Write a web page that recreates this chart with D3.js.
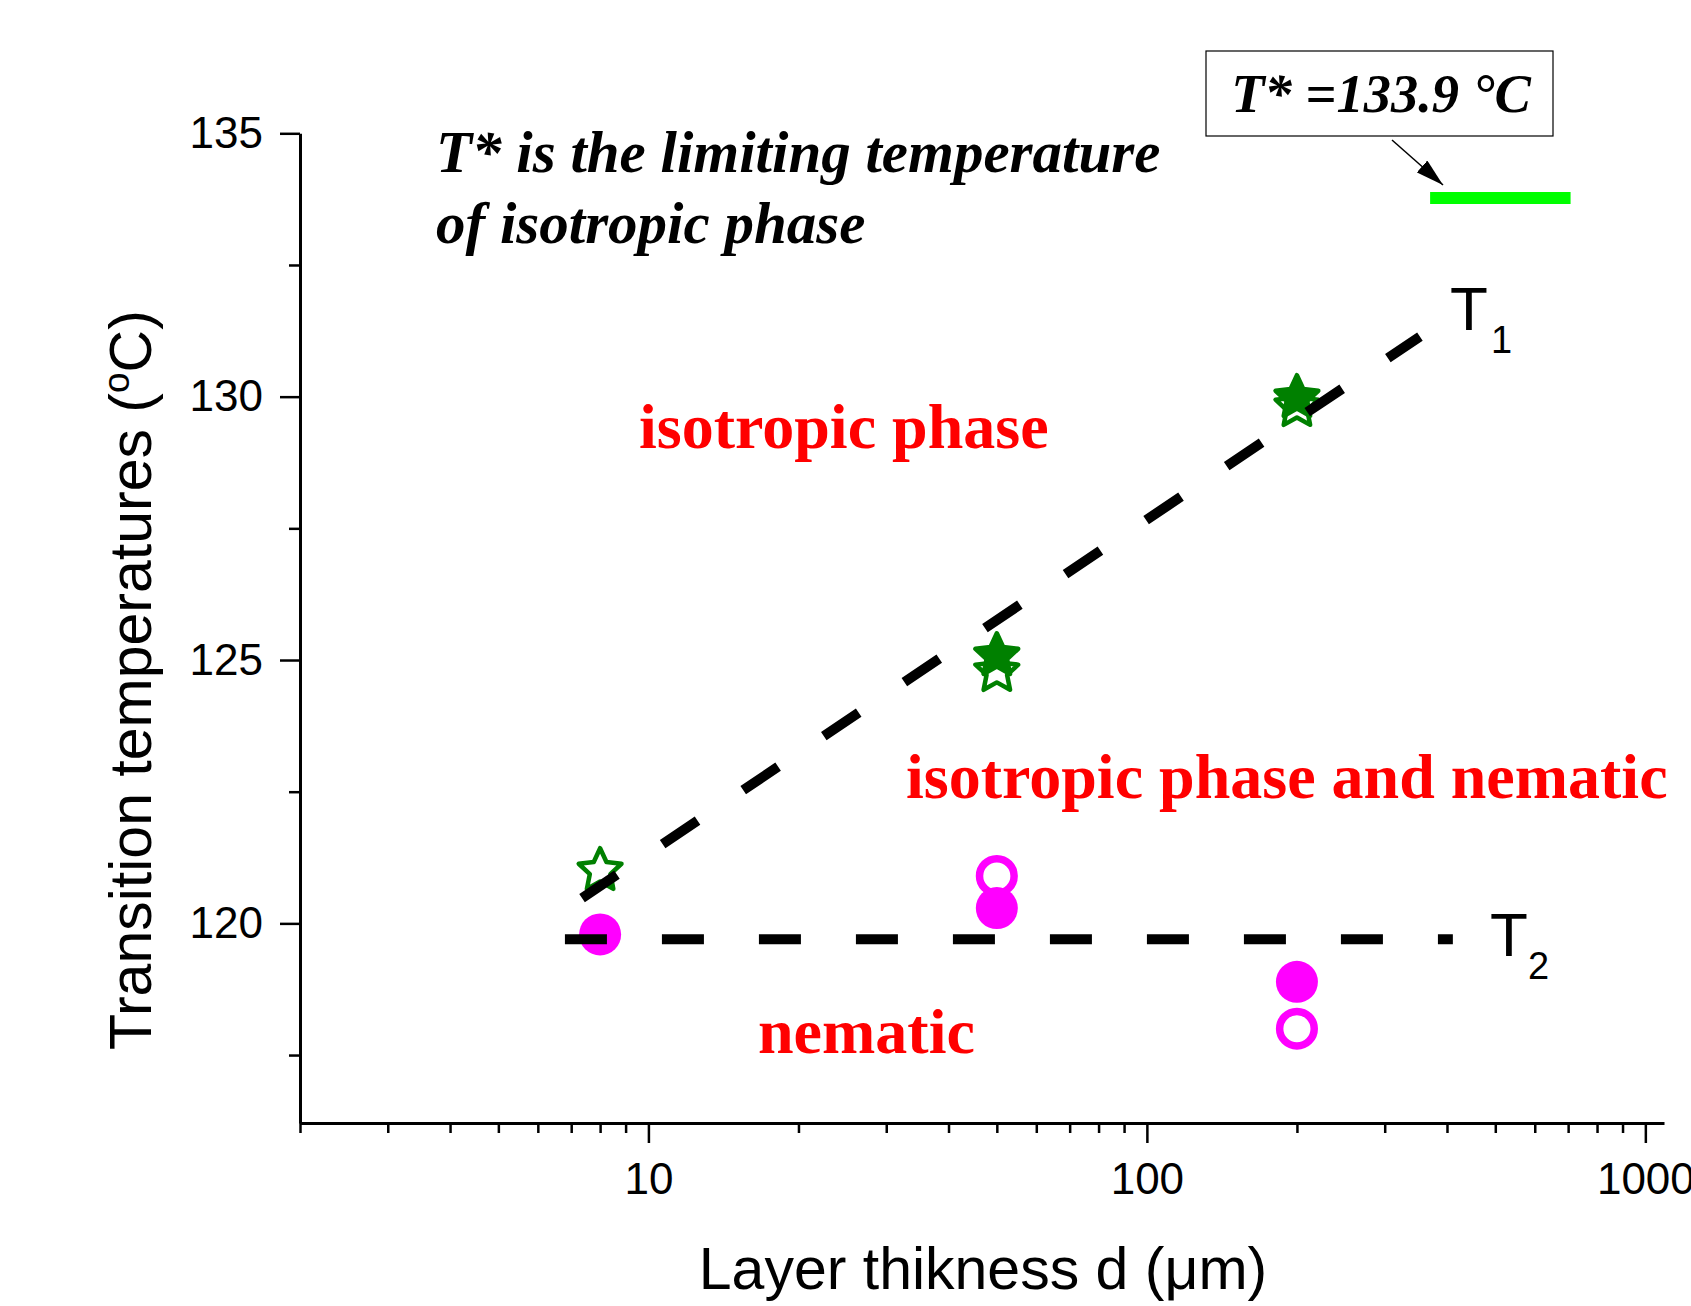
<!DOCTYPE html>
<html>
<head>
<meta charset="utf-8">
<script src="https://cdn.jsdelivr.net/npm/d3@7"></script>
<style>
  body { margin: 0; background: #fff; }
  .sans { font-family: "Liberation Sans", Arial, sans-serif; }
  .serif { font-family: "Liberation Serif", "Times New Roman", serif; font-weight: bold; }
</style>
</head>
<body>
<div id="chart"></div>
<script>
// values: layer thickness d (um) and temperatures (C)
const starOpenD = [8, 50, 200];
const starOpenT = [121.0, 124.78, 129.81];
const starFilledD = [50, 200];
const starFilledT = [125.08, 129.98];
const circleOpenD = [50, 200];
const circleOpenT = [120.9, 118.0];
const circleFilledD = [8, 50, 200];
const circleFilledT = [119.79, 120.29, 118.89];

// fitted lines T1, T2 and the limiting temperature T*
const t1LineD = [7.36, 353];
const t1LineT = [120.48, 131.14];
const t2LineD = [6.8, 411];
const t2LineT = [119.7, 119.7];
const tStarD = [370, 708];
const tStarT = [133.77, 133.77];

const yMajor = [120, 125, 130, 135];
const yMinor = [117.5, 122.5, 127.5, 132.5];
const xMajor = [10, 100, 1000];
const xMinor = [2, 3, 4, 5, 6, 7, 8, 9, 20, 30, 40, 50, 60, 70, 80, 90, 200, 300, 400, 500, 600, 700, 800, 900];

const W = 1691, H = 1306;
const svg = d3.select('#chart').append('svg')
  .attr('width', W).attr('height', H);

const x = d3.scaleLog().domain([2, 1090]).range([300, 1664]);
const y = d3.scaleLinear().domain([116.21, 135]).range([1123, 133.3]);

// axes
svg.append('g').attr('transform', 'translate(300,0)')
  .call(d3.axisLeft(y).tickValues(yMajor).tickSize(20).tickSizeOuter(0).tickPadding(17));
svg.append('g').attr('transform', 'translate(300,0)')
  .call(d3.axisLeft(y).tickValues(yMinor).tickSize(11).tickFormat(''))
  .select('.domain').remove();
svg.append('g').attr('transform', 'translate(0,1123)')
  .call(d3.axisBottom(x).tickValues(xMajor).tickSize(20).tickSizeOuter(0).tickPadding(20).tickFormat(d3.format('d')));
svg.append('g').attr('transform', 'translate(0,1123)')
  .call(d3.axisBottom(x).tickValues(xMinor).tickSize(10).tickFormat(''))
  .select('.domain').remove();

svg.selectAll('.domain').attr('stroke', '#000').attr('stroke-width', 3);
svg.selectAll('.tick line').attr('stroke', '#000').attr('stroke-width', 2.5);
svg.selectAll('.tick text').attr('class', 'sans').attr('font-size', 44).attr('fill', '#000');

// axis titles
svg.append('text').attr('class', 'sans')
  .attr('x', 983).attr('y', 1289).attr('text-anchor', 'middle')
  .attr('font-size', 59).text('Layer thikness d (\u03bcm)');

const yt = svg.append('text').attr('class', 'sans')
  .attr('transform', 'translate(151,680) rotate(-90)')
  .attr('text-anchor', 'middle').attr('font-size', 59);
yt.append('tspan').text('Transition temperatures (');
yt.append('tspan').attr('font-size', 37).attr('dy', -22).text('o');
yt.append('tspan').attr('dy', 22).text('C)');

// star marker
function starPath(R, r) {
  const pts = [];
  for (let i = 0; i < 10; i++) {
    const a = -Math.PI / 2 + i * Math.PI / 5;
    const rad = i % 2 === 0 ? R : r;
    pts.push([rad * Math.cos(a), rad * Math.sin(a)]);
  }
  return 'M' + pts.map(p => p.join(',')).join('L') + 'Z';
}
const star = starPath(22.5, 10.8);

const green = '#008000', magenta = '#ff00ff';

svg.selectAll('.star-open').data(starOpenD).enter().append('path')
  .attr('d', star)
  .attr('transform', (d, i) => `translate(${x(d)},${y(starOpenT[i])})`)
  .attr('fill', '#fff').attr('stroke', green).attr('stroke-width', 4.5)
  .attr('stroke-linejoin', 'round');
svg.selectAll('.star-filled').data(starFilledD).enter().append('path')
  .attr('d', star)
  .attr('transform', (d, i) => `translate(${x(d)},${y(starFilledT[i])})`)
  .attr('fill', green).attr('stroke', green).attr('stroke-width', 4.5)
  .attr('stroke-linejoin', 'round');

svg.selectAll('.circ-open').data(circleOpenD).enter().append('circle')
  .attr('cx', d => x(d)).attr('cy', (d, i) => y(circleOpenT[i]))
  .attr('r', 17.3).attr('fill', '#fff').attr('stroke', magenta).attr('stroke-width', 7.5);
svg.selectAll('.circ-filled').data(circleFilledD).enter().append('circle')
  .attr('cx', d => x(d)).attr('cy', (d, i) => y(circleFilledT[i]))
  .attr('r', 21).attr('fill', magenta);

// lines
const line = d3.line().x(p => x(p[0])).y(p => y(p[1]));
svg.append('path').datum(d3.zip(t1LineD, t1LineT)).attr('d', line)
  .attr('fill', 'none').attr('stroke', '#000').attr('stroke-width', 10)
  .attr('stroke-dasharray', '42,55');
svg.append('path').datum(d3.zip(t2LineD, t2LineT)).attr('d', line)
  .attr('fill', 'none').attr('stroke', '#000').attr('stroke-width', 10)
  .attr('stroke-dasharray', '42,55');
svg.append('path').datum(d3.zip(tStarD, tStarT)).attr('d', line)
  .attr('fill', 'none').attr('stroke', '#00ff00').attr('stroke-width', 12);

// line labels
function subLabel(tx, ty, sub, sx, sy) {
  const g = svg.append('g').attr('class', 'sans');
  g.append('text').attr('class', 'sans').attr('x', tx).attr('y', ty).attr('font-size', 62).text('T');
  g.append('text').attr('class', 'sans').attr('x', sx).attr('y', sy).attr('font-size', 38).text(sub);
}
subLabel(1450, 330, '1', 1491, 353);
subLabel(1490, 956, '2', 1528, 979);

// region labels
const red = '#ff0000';
svg.append('text').attr('class', 'serif').attr('fill', red).attr('font-size', 64)
  .attr('x', 639).attr('y', 448).text('isotropic phase');
svg.append('text').attr('class', 'serif').attr('fill', red).attr('font-size', 64)
  .attr('x', 906).attr('y', 798).text('isotropic phase and nematic');
svg.append('text').attr('class', 'serif').attr('fill', red).attr('font-size', 64)
  .attr('x', 758).attr('y', 1053).text('nematic');

// note
svg.append('text').attr('class', 'serif').attr('font-style', 'italic').attr('font-size', 59)
  .attr('x', 436).attr('y', 172).text('T* is the limiting temperature');
svg.append('text').attr('class', 'serif').attr('font-style', 'italic').attr('font-size', 59)
  .attr('x', 436).attr('y', 243).text('of isotropic phase');

// T* box and arrow
svg.append('rect').attr('x', 1206).attr('y', 51).attr('width', 347).attr('height', 85)
  .attr('fill', '#fff').attr('stroke', '#000').attr('stroke-width', 1.2);
svg.append('text').attr('class', 'serif').attr('font-style', 'italic').attr('font-size', 54.5)
  .attr('x', 1381).attr('y', 112).attr('text-anchor', 'middle').text('T* =133.9 \u00b0C');

svg.append('defs').append('marker').attr('id', 'arr')
  .attr('viewBox', '0 0 28 16').attr('refX', 28).attr('refY', 8)
  .attr('markerWidth', 28).attr('markerHeight', 16).attr('markerUnits', 'userSpaceOnUse')
  .attr('orient', 'auto')
  .append('path').attr('d', 'M0,0L28,8L0,16Z').attr('fill', '#000');
svg.append('line').attr('x1', 1392).attr('y1', 140).attr('x2', 1443).attr('y2', 185)
  .attr('stroke', '#000').attr('stroke-width', 1.5).attr('marker-end', 'url(#arr)');
</script>
</body>
</html>
